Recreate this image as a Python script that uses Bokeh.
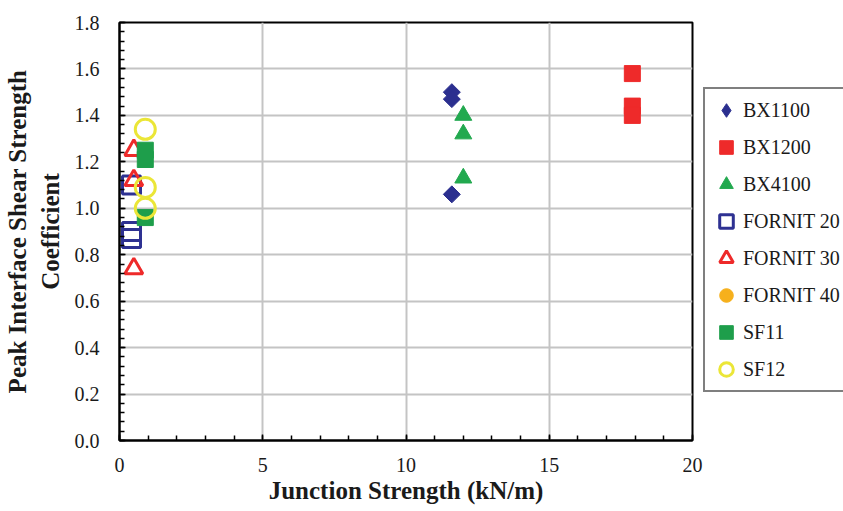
import numpy as np
from bokeh.plotting import figure
from bokeh.layouts import row
from bokeh.models import (Legend, LegendItem, SingleIntervalTicker,
                          NumeralTickFormatter)
from bokeh.embed import file_html
from bokeh.resources import INLINE

# Junction strength (kN/m) and peak interface shear strength coefficient per product
bx1100_x = [11.6, 11.6, 11.6]
bx1100_y = [1.50, 1.47, 1.06]

bx1200_x = [17.9, 17.9, 17.9]
bx1200_y = [1.58, 1.44, 1.40]

bx4100_x = [12.0, 12.0, 12.0]
bx4100_y = [1.40, 1.32, 1.13]

fornit20_x = [0.42, 0.42, 0.42]
fornit20_y = [1.10, 0.90, 0.87]

fornit30_x = [0.5, 0.5, 0.5]
fornit30_y = [1.25, 1.12, 0.74]

# no FORNIT 40 measurement is plotted; it appears in the key only
fornit40_x = [np.nan]
fornit40_y = [np.nan]

sf11_x = [0.9, 0.9, 0.9]
sf11_y = [1.25, 1.21, 0.96]

sf12_x = [0.9, 0.9, 0.9]
sf12_y = [1.34, 1.09, 1.00]

series_names = ["BX1100", "BX1200", "BX4100", "FORNIT 20",
                "FORNIT 30", "FORNIT 40", "SF11", "SF12"]

SERIF = "Liberation Serif"
TEXT = "#1a1a1a"

NAVY = "#2b2f8f"
RED = "#ee2a2a"
GREEN = "#22a94f"
GREEN2 = "#1e9e4b"
ORANGE = "#f6b01c"
YELLOW = "#ebe637"

# key swatch styles per series: (marker, size, fill, line, line width)
styles = [
    ("diamond", 16, NAVY, NAVY, 1),
    ("square", 16, RED, RED, 1),
    ("triangle", 17, GREEN, GREEN, 1),
    ("square", 18, None, "#2e3192", 3),
    ("triangle", 18, None, RED, 3),
    ("circle", 16, ORANGE, ORANGE, 1),
    ("square", 16, GREEN2, GREEN2, 1),
    ("circle", 20, None, YELLOW, 3),
]

p = figure(width=703, height=511, x_range=(0, 20), y_range=(0, 1.8),
           output_backend="svg", toolbar_location=None,
           min_border_left=119, min_border_right=11,
           min_border_top=22, min_border_bottom=71,
           background_fill_color="white", border_fill_color="white")

p.outline_line_color = "black"
p.outline_line_width = 2

# axes
p.xaxis.ticker = SingleIntervalTicker(interval=5, num_minor_ticks=5)
p.yaxis.ticker = SingleIntervalTicker(interval=0.2, num_minor_ticks=5)
p.yaxis.formatter = NumeralTickFormatter(format="0.0")
p.xaxis.formatter = NumeralTickFormatter(format="0")

for ax in (p.xaxis[0], p.yaxis[0]):
    ax.axis_line_color = "black"
    ax.axis_line_width = 2
    ax.major_tick_in = 6
    ax.major_tick_out = 0
    ax.minor_tick_in = 5
    ax.minor_tick_out = 0
    ax.major_tick_line_color = "black"
    ax.minor_tick_line_color = "black"
    ax.major_tick_line_width = 1.5
    ax.minor_tick_line_width = 1.5
    ax.major_label_text_font = SERIF
    ax.major_label_text_font_size = "20px"
    ax.major_label_text_color = TEXT
    ax.axis_label_text_font = SERIF
    ax.axis_label_text_font_style = "bold"
    ax.axis_label_text_font_size = "25px"
    ax.axis_label_text_color = TEXT

p.xaxis.axis_label = "Junction Strength (kN/m)"
p.yaxis.axis_label = "Peak Interface Shear Strength\nCoefficient"
p.xaxis.major_label_standoff = 17
p.yaxis.major_label_standoff = 20
p.xaxis.axis_label_standoff = 2
p.yaxis.axis_label_standoff = 8

p.xgrid.grid_line_color = "#c4c4c4"
p.ygrid.grid_line_color = "#c4c4c4"
p.xgrid.grid_line_width = 2
p.ygrid.grid_line_width = 2

# data markers (BX1100 drawn as a square turned 45 degrees)
p.scatter(bx1100_x, bx1100_y, marker="square", angle=np.pi / 4, size=12,
          fill_color=NAVY, line_color=NAVY)
p.scatter(bx1200_x, bx1200_y, marker="square", size=16,
          fill_color=RED, line_color=RED)
p.scatter(bx4100_x, bx4100_y, marker="triangle", size=17,
          fill_color=GREEN, line_color=GREEN)
p.scatter(fornit20_x, fornit20_y, marker="square", size=18,
          fill_color=None, line_color="#2e3192", line_width=3)
p.scatter(fornit30_x, fornit30_y, marker="triangle", size=18,
          fill_color=None, line_color=RED, line_width=3)
p.scatter(fornit40_x, fornit40_y, marker="circle", size=16,
          fill_color=ORANGE, line_color=ORANGE)
p.scatter(sf11_x, sf11_y, marker="square", size=16,
          fill_color=GREEN2, line_color=GREEN2)
p.scatter(sf12_x, sf12_y, marker="circle", size=20,
          fill_color=None, line_color=YELLOW, line_width=3)

# key panel to the right of the plot
k = figure(width=140, height=511, x_axis_type=None, y_axis_type=None,
           output_backend="svg", toolbar_location=None, min_border=0,
           background_fill_color="white", border_fill_color="white")
k.outline_line_color = None
k.grid.visible = False

items = []
for name, (marker, size, fill, line, lw) in zip(series_names, styles):
    r = k.scatter([np.nan], [np.nan], marker=marker, size=size,
                  fill_color=fill, line_color=line, line_width=lw)
    items.append(LegendItem(label=name, renderers=[r]))

legend = Legend(items=items, location=(0, 48))
legend.label_text_font = SERIF
legend.label_text_font_size = "20px"
legend.label_text_color = TEXT
legend.glyph_width = 34
legend.glyph_height = 34
legend.label_height = 20
legend.label_standoff = -7
legend.spacing = 3
legend.padding = 4
legend.margin = 0
legend.border_line_color = "black"
legend.border_line_width = 2
legend.background_fill_color = "white"
legend.background_fill_alpha = 1
k.add_layout(legend)

layout = row(p, k)
open("out.html", "w").write(file_html(layout, INLINE))
